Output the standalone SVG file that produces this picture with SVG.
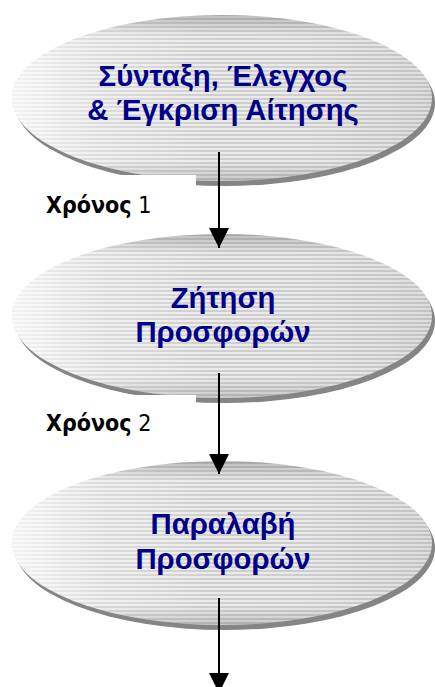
<svg xmlns="http://www.w3.org/2000/svg" width="435" height="687" viewBox="0 0 435 687">
  <style>
    .shadow { fill: #858585; }
    .body { fill: url(#stripes); }
    .shade-h { fill: url(#shadeH); }
    .shade-v { fill: url(#shadeV); }
    .title { font-family: "Liberation Sans", Arial, sans-serif; font-weight: bold; font-size: 29.3px; fill: #000088; text-anchor: middle; }
    .year { font-family: "DejaVu Sans", sans-serif; font-stretch: condensed; font-size: 23px; fill: #000000; }
    .year .b { font-weight: bold; }
    .mask { fill: #ffffff; }
    .link { stroke: #000000; stroke-width: 2; fill: none; marker-end: url(#arrow); }
  </style>
  <defs>
    <!-- fine horizontal banding of the ellipse fill -->
    <pattern id="stripes" width="8" height="4" patternUnits="userSpaceOnUse">
      <rect width="8" height="4" fill="#ebebeb"/>
      <rect y="2" width="8" height="2" fill="#cecece"/>
    </pattern>
    <!-- light on the left, slightly darker to the right -->
    <linearGradient id="shadeH" x1="0" y1="0" x2="1" y2="0">
      <stop offset="0" stop-color="#ffffff" stop-opacity="0.75"/>
      <stop offset="0.2" stop-color="#ffffff" stop-opacity="0.3"/>
      <stop offset="0.5" stop-color="#ffffff" stop-opacity="0"/>
      <stop offset="1" stop-color="#000000" stop-opacity="0.06"/>
    </linearGradient>
    <!-- darker rim along top and bottom -->
    <linearGradient id="shadeV" x1="0" y1="0" x2="0" y2="1">
      <stop offset="0" stop-color="#000000" stop-opacity="0.2"/>
      <stop offset="0.12" stop-color="#000000" stop-opacity="0"/>
      <stop offset="0.88" stop-color="#000000" stop-opacity="0"/>
      <stop offset="1" stop-color="#000000" stop-opacity="0.15"/>
    </linearGradient>
    <marker id="arrow" viewBox="0 0 20 20" refX="20" refY="10" markerWidth="20" markerHeight="20" markerUnits="userSpaceOnUse" orient="auto">
      <path d="M0,0 L20,10 L0,20 Z" fill="#000000"/>
    </marker>
  </defs>

  <rect width="435" height="687" fill="#ffffff"/>

  <g id="node-syntaxi">
    <ellipse class="shadow" cx="225" cy="103" rx="210" ry="83"/>
    <ellipse class="body" cx="222" cy="98" rx="210" ry="83"/>
    <ellipse class="shade-h" cx="222" cy="98" rx="210" ry="83"/>
    <ellipse class="shade-v" cx="222" cy="98" rx="210" ry="83"/>
    <text class="title" x="223" y="86">Σύνταξη, Έλεγχος</text>
    <text class="title" x="223" y="120">&amp; Έγκριση Αίτησης</text>
  </g>

  <g id="node-zitisi">
    <ellipse class="shadow" cx="225" cy="321" rx="210" ry="82"/>
    <ellipse class="body" cx="222" cy="316" rx="210" ry="82"/>
    <ellipse class="shade-h" cx="222" cy="316" rx="210" ry="82"/>
    <ellipse class="shade-v" cx="222" cy="316" rx="210" ry="82"/>
    <text class="title" x="223" y="308">Ζήτηση</text>
    <text class="title" x="223" y="342">Προσφορών</text>
  </g>

  <g id="node-paralavi">
    <ellipse class="shadow" cx="225" cy="548" rx="210" ry="82"/>
    <ellipse class="body" cx="222" cy="543" rx="210" ry="82"/>
    <ellipse class="shade-h" cx="222" cy="543" rx="210" ry="82"/>
    <ellipse class="shade-v" cx="222" cy="543" rx="210" ry="82"/>
    <text class="title" x="223" y="534">Παραλαβή</text>
    <text class="title" x="223" y="569">Προσφορών</text>
  </g>

  <g id="label-xronos-1">
    <rect class="mask" x="40" y="175" width="156" height="50"/>
    <text class="year" x="46" y="213"><tspan class="b">Χρόνος</tspan> 1</text>
  </g>

  <g id="label-xronos-2">
    <rect class="mask" x="40" y="395" width="156" height="50"/>
    <text class="year" x="46" y="431"><tspan class="b">Χρόνος</tspan> 2</text>
  </g>

  <g id="connectors">
    <line class="link" x1="219" y1="152" x2="219" y2="248"/>
    <line class="link" x1="219" y1="373" x2="219" y2="474"/>
    <line class="link" x1="219" y1="598" x2="219" y2="693"/>
  </g>
</svg>
